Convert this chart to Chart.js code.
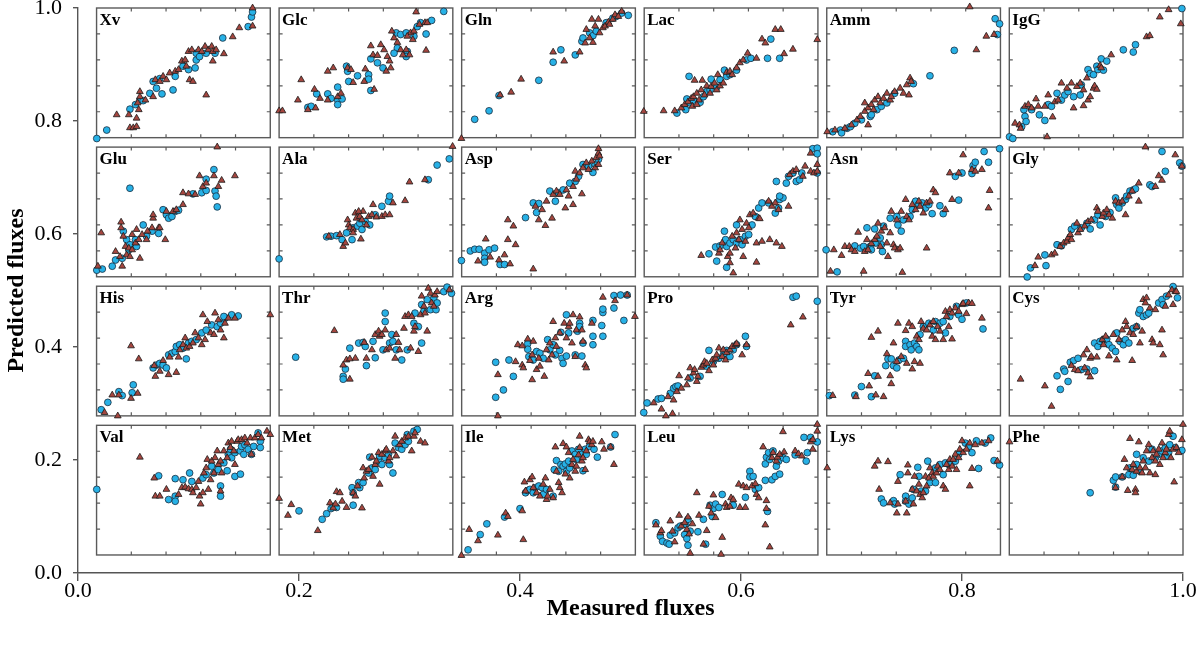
<!DOCTYPE html>
<html>
<head>
<meta charset="utf-8">
<script src="https://cdn.jsdelivr.net/npm/chart.js@4/dist/chart.umd.min.js"></script>
<style>
html,body{margin:0;padding:0;background:#fff;}
#wrap{width:1200px;height:645px;}
</style>
</head>
<body>
<div id="wrap"><canvas id="c" width="1200" height="645"></canvas></div>
<script>
// ---------- tick labels ----------
const tickValues = [0, 0.2, 0.4, 0.6, 0.8, 1.0];
const xTickLabels = ['0.0', '0.2', '0.4', '0.6', '0.8', '1.0'];
const yTickLabels = ['0.0', '0.2', '0.4', '0.6', '0.8', '1.0'];

// ---------- panel names (categories) ----------
const panelNames = ['Xv','Glc','Gln','Lac','Amm','IgG','Glu','Ala','Asp','Ser','Asn','Gly',
                    'His','Thr','Arg','Pro','Tyr','Cys','Val','Met','Ile','Leu','Lys','Phe'];

// ---------- series values: [measured, predicted] (C = circles, T = triangles) ----------
const xvC = [[0.017,0.769],[0.026,0.784],[0.047,0.821],[0.052,0.829],[0.056,0.837],[0.059,0.836],[0.065,0.849],[0.068,0.870],[0.071,0.858],[0.074,0.875],[0.076,0.848],[0.086,0.855],[0.088,0.879],[0.095,0.897],[0.100,0.891],[0.106,0.894],[0.107,0.908],[0.107,0.920],[0.110,0.914],[0.116,0.920],[0.124,0.920],[0.131,0.947],[0.154,0.967],[0.157,0.984],[0.158,0.993]];
const xvT = [[0.035,0.811],[0.046,0.811],[0.047,0.788],[0.050,0.788],[0.053,0.790],[0.053,0.805],[0.055,0.820],[0.056,0.852],[0.056,0.843],[0.054,0.832],[0.061,0.837],[0.068,0.843],[0.070,0.873],[0.074,0.870],[0.077,0.879],[0.080,0.873],[0.083,0.885],[0.088,0.888],[0.091,0.891],[0.094,0.906],[0.097,0.908],[0.098,0.897],[0.101,0.873],[0.104,0.870],[0.100,0.923],[0.103,0.926],[0.109,0.926],[0.112,0.923],[0.115,0.932],[0.118,0.926],[0.121,0.932],[0.122,0.923],[0.125,0.926],[0.116,0.846],[0.122,0.906],[0.132,0.919],[0.140,0.949],[0.146,0.965],[0.158,0.968],[0.158,1.000]];
const glcC = [[0.208,0.824],[0.211,0.826],[0.216,0.848],[0.226,0.848],[0.229,0.840],[0.235,0.837],[0.235,0.829],[0.235,0.860],[0.239,0.839],[0.243,0.897],[0.244,0.888],[0.245,0.870],[0.253,0.880],[0.263,0.882],[0.263,0.874],[0.265,0.854],[0.265,0.910],[0.271,0.903],[0.276,0.894],[0.288,0.956],[0.292,0.953],[0.289,0.929],[0.297,0.956],[0.298,0.923],[0.297,0.914],[0.304,0.950],[0.307,0.967],[0.310,0.974],[0.315,0.954],[0.320,0.978],[0.286,0.920],[0.331,0.994]];
const glcT = [[0.182,0.818],[0.185,0.818],[0.199,0.837],[0.202,0.873],[0.208,0.820],[0.214,0.856],[0.215,0.823],[0.219,0.840],[0.226,0.837],[0.226,0.888],[0.231,0.894],[0.235,0.843],[0.238,0.849],[0.244,0.894],[0.247,0.891],[0.249,0.868],[0.260,0.892],[0.259,0.870],[0.265,0.933],[0.268,0.856],[0.267,0.917],[0.271,0.916],[0.274,0.935],[0.277,0.926],[0.280,0.914],[0.282,0.906],[0.279,0.888],[0.283,0.894],[0.284,0.959],[0.286,0.947],[0.289,0.939],[0.292,0.926],[0.294,0.917],[0.297,0.926],[0.300,0.917],[0.301,0.956],[0.304,0.959],[0.306,0.993],[0.309,0.971],[0.314,0.974],[0.315,0.925],[0.316,0.974],[0.303,0.944],[0.298,0.950]];
const glnC = [[0.359,0.803],[0.372,0.818],[0.381,0.845],[0.417,0.872],[0.430,0.904],[0.437,0.926],[0.450,0.917],[0.456,0.941],[0.457,0.947],[0.463,0.956],[0.466,0.951],[0.469,0.959],[0.478,0.974],[0.484,0.982],[0.487,0.985],[0.492,0.991],[0.498,0.987]];
const glnT = [[0.347,0.769],[0.382,0.846],[0.392,0.851],[0.401,0.874],[0.430,0.922],[0.440,0.906],[0.454,0.922],[0.459,0.938],[0.460,0.962],[0.465,0.980],[0.466,0.939],[0.468,0.968],[0.471,0.980],[0.472,0.956],[0.475,0.965],[0.477,0.968],[0.480,0.975],[0.481,0.971],[0.484,0.980],[0.486,0.988],[0.489,0.985],[0.492,0.994],[0.463,0.947]];
const lacC = [[0.542,0.814],[0.550,0.820],[0.551,0.839],[0.554,0.832],[0.557,0.837],[0.563,0.833],[0.566,0.843],[0.569,0.852],[0.572,0.855],[0.573,0.874],[0.578,0.860],[0.581,0.873],[0.585,0.890],[0.587,0.879],[0.590,0.882],[0.596,0.890],[0.605,0.908],[0.609,0.911],[0.553,0.879],[0.627,0.945],[0.624,0.911],[0.635,0.911]];
const lacT = [[0.512,0.817],[0.530,0.818],[0.540,0.818],[0.546,0.823],[0.549,0.829],[0.552,0.834],[0.555,0.840],[0.557,0.843],[0.560,0.849],[0.562,0.837],[0.564,0.855],[0.567,0.846],[0.569,0.862],[0.572,0.849],[0.573,0.861],[0.576,0.867],[0.578,0.855],[0.581,0.862],[0.584,0.867],[0.579,0.882],[0.587,0.886],[0.590,0.888],[0.592,0.882],[0.596,0.894],[0.599,0.903],[0.602,0.908],[0.606,0.920],[0.614,0.911],[0.619,0.945],[0.622,0.938],[0.631,0.962],[0.636,0.962],[0.639,0.919],[0.647,0.927],[0.558,0.872],[0.565,0.872],[0.556,0.826],[0.560,0.829],[0.669,0.944]];
const ammC = [[0.683,0.781],[0.690,0.784],[0.691,0.779],[0.696,0.787],[0.699,0.790],[0.703,0.796],[0.709,0.802],[0.717,0.808],[0.718,0.811],[0.723,0.820],[0.727,0.826],[0.732,0.832],[0.739,0.849],[0.756,0.866],[0.771,0.880],[0.793,0.925],[0.830,0.981],[0.834,0.972],[0.832,0.953]];
const ammT = [[0.678,0.781],[0.685,0.784],[0.694,0.787],[0.700,0.793],[0.705,0.802],[0.708,0.808],[0.712,0.817],[0.712,0.832],[0.715,0.823],[0.718,0.829],[0.721,0.837],[0.724,0.843],[0.726,0.832],[0.729,0.840],[0.732,0.849],[0.735,0.837],[0.736,0.843],[0.739,0.852],[0.744,0.858],[0.747,0.849],[0.750,0.864],[0.753,0.876],[0.754,0.870],[0.752,0.846],[0.715,0.793],[0.720,0.820],[0.807,1.002],[0.813,0.926],[0.822,0.950],[0.829,0.953]];
const iggC = [[0.843,0.772],[0.846,0.769],[0.856,0.820],[0.857,0.808],[0.858,0.799],[0.854,0.790],[0.863,0.820],[0.870,0.811],[0.875,0.801],[0.878,0.829],[0.881,0.826],[0.886,0.849],[0.890,0.837],[0.893,0.846],[0.896,0.852],[0.901,0.843],[0.907,0.846],[0.908,0.864],[0.914,0.891],[0.916,0.884],[0.919,0.882],[0.922,0.897],[0.923,0.891],[0.926,0.910],[0.928,0.890],[0.931,0.906],[0.946,0.926],[0.955,0.922],[0.957,0.935],[0.999,0.999]];
const iggT = [[0.848,0.796],[0.852,0.793],[0.853,0.787],[0.857,0.826],[0.860,0.829],[0.863,0.823],[0.867,0.839],[0.869,0.826],[0.875,0.826],[0.877,0.772],[0.878,0.846],[0.882,0.807],[0.884,0.834],[0.887,0.837],[0.890,0.867],[0.895,0.858],[0.899,0.867],[0.901,0.823],[0.904,0.861],[0.907,0.867],[0.910,0.855],[0.910,0.827],[0.913,0.876],[0.914,0.837],[0.916,0.843],[0.919,0.858],[0.920,0.862],[0.922,0.856],[0.925,0.898],[0.926,0.894],[0.935,0.917],[0.967,0.949],[0.970,0.951],[0.979,0.984],[0.987,0.997],[0.998,0.972]];
const gluC = [[0.017,0.536],[0.022,0.538],[0.031,0.543],[0.034,0.554],[0.040,0.557],[0.046,0.572],[0.044,0.590],[0.047,0.681],[0.047,0.581],[0.052,0.590],[0.053,0.578],[0.059,0.616],[0.062,0.596],[0.067,0.605],[0.073,0.601],[0.077,0.643],[0.080,0.634],[0.082,0.628],[0.085,0.631],[0.088,0.640],[0.091,0.642],[0.104,0.671],[0.112,0.673],[0.116,0.677],[0.116,0.697],[0.123,0.714],[0.124,0.676],[0.125,0.667],[0.126,0.648],[0.041,0.605]];
const gluT = [[0.018,0.543],[0.021,0.602],[0.034,0.569],[0.038,0.560],[0.040,0.543],[0.039,0.621],[0.039,0.611],[0.041,0.596],[0.043,0.578],[0.044,0.563],[0.046,0.575],[0.047,0.560],[0.049,0.572],[0.049,0.599],[0.052,0.584],[0.053,0.608],[0.055,0.590],[0.056,0.557],[0.058,0.599],[0.062,0.590],[0.063,0.605],[0.067,0.611],[0.068,0.628],[0.068,0.634],[0.073,0.611],[0.074,0.611],[0.079,0.590],[0.080,0.640],[0.086,0.640],[0.089,0.643],[0.095,0.652],[0.095,0.673],[0.100,0.671],[0.106,0.670],[0.110,0.703],[0.113,0.684],[0.116,0.690],[0.123,0.703],[0.127,0.684],[0.130,0.695],[0.142,0.703],[0.126,0.754]];
const alaC = [[0.182,0.556],[0.225,0.595],[0.229,0.596],[0.234,0.597],[0.239,0.590],[0.243,0.602],[0.248,0.590],[0.249,0.611],[0.253,0.614],[0.255,0.619],[0.257,0.608],[0.260,0.622],[0.264,0.616],[0.269,0.634],[0.275,0.649],[0.281,0.658],[0.282,0.667],[0.317,0.696],[0.325,0.722],[0.336,0.733]];
const alaT = [[0.227,0.596],[0.237,0.599],[0.240,0.578],[0.242,0.584],[0.244,0.625],[0.245,0.616],[0.246,0.611],[0.249,0.608],[0.251,0.637],[0.252,0.628],[0.255,0.631],[0.257,0.625],[0.258,0.640],[0.261,0.616],[0.263,0.631],[0.266,0.634],[0.267,0.652],[0.270,0.630],[0.275,0.631],[0.278,0.634],[0.282,0.634],[0.285,0.655],[0.296,0.659],[0.300,0.692],[0.314,0.696],[0.256,0.591],[0.249,0.602],[0.254,0.640],[0.339,0.755]];
const aspC = [[0.347,0.553],[0.355,0.570],[0.359,0.573],[0.363,0.573],[0.368,0.566],[0.368,0.557],[0.372,0.572],[0.377,0.575],[0.368,0.550],[0.382,0.546],[0.386,0.546],[0.405,0.629],[0.412,0.655],[0.415,0.638],[0.417,0.654],[0.427,0.676],[0.432,0.658],[0.435,0.673],[0.439,0.678],[0.445,0.690],[0.450,0.693],[0.453,0.702],[0.457,0.723],[0.462,0.720],[0.466,0.709],[0.468,0.723],[0.471,0.732]];
const aspT = [[0.362,0.552],[0.369,0.591],[0.373,0.559],[0.381,0.554],[0.386,0.563],[0.389,0.590],[0.389,0.625],[0.391,0.547],[0.394,0.614],[0.396,0.581],[0.412,0.538],[0.414,0.649],[0.417,0.625],[0.420,0.643],[0.423,0.615],[0.424,0.658],[0.429,0.628],[0.430,0.670],[0.433,0.676],[0.436,0.670],[0.441,0.646],[0.442,0.678],[0.444,0.667],[0.448,0.652],[0.448,0.684],[0.450,0.711],[0.451,0.697],[0.454,0.708],[0.456,0.671],[0.457,0.717],[0.460,0.726],[0.462,0.714],[0.465,0.729],[0.468,0.717],[0.469,0.735],[0.471,0.743],[0.471,0.751],[0.471,0.723],[0.472,0.738]];
const serC = [[0.571,0.565],[0.577,0.577],[0.578,0.552],[0.581,0.579],[0.585,0.605],[0.586,0.590],[0.587,0.578],[0.587,0.541],[0.590,0.584],[0.593,0.590],[0.596,0.616],[0.596,0.584],[0.599,0.590],[0.601,0.581],[0.604,0.596],[0.607,0.599],[0.610,0.616],[0.613,0.631],[0.616,0.646],[0.619,0.655],[0.625,0.655],[0.631,0.637],[0.632,0.693],[0.634,0.646],[0.635,0.661],[0.638,0.664],[0.641,0.690],[0.643,0.702],[0.647,0.708],[0.650,0.693],[0.653,0.696],[0.655,0.708],[0.665,0.751],[0.635,0.667],[0.669,0.752],[0.669,0.742],[0.669,0.708]];
const serT = [[0.564,0.562],[0.580,0.566],[0.581,0.572],[0.583,0.584],[0.588,0.560],[0.590,0.566],[0.590,0.549],[0.592,0.596],[0.593,0.531],[0.595,0.575],[0.596,0.602],[0.598,0.590],[0.599,0.625],[0.601,0.608],[0.602,0.560],[0.604,0.587],[0.605,0.619],[0.607,0.611],[0.608,0.634],[0.611,0.637],[0.614,0.584],[0.616,0.628],[0.614,0.550],[0.617,0.627],[0.619,0.587],[0.625,0.658],[0.628,0.649],[0.631,0.655],[0.632,0.584],[0.634,0.643],[0.637,0.578],[0.643,0.649],[0.644,0.705],[0.647,0.711],[0.650,0.714],[0.656,0.702],[0.658,0.720],[0.663,0.743],[0.663,0.711],[0.666,0.708],[0.626,0.590],[0.669,0.723],[0.669,0.711]];
const asnC = [[0.677,0.572],[0.687,0.533],[0.703,0.579],[0.708,0.575],[0.711,0.578],[0.714,0.611],[0.717,0.578],[0.718,0.572],[0.721,0.609],[0.722,0.584],[0.726,0.593],[0.727,0.581],[0.728,0.569],[0.729,0.614],[0.735,0.628],[0.741,0.631],[0.742,0.616],[0.745,0.605],[0.747,0.625],[0.753,0.631],[0.755,0.643],[0.758,0.658],[0.761,0.652],[0.764,0.655],[0.767,0.646],[0.770,0.652],[0.773,0.636],[0.780,0.650],[0.783,0.636],[0.794,0.702],[0.797,0.660],[0.800,0.708],[0.809,0.707],[0.810,0.721],[0.812,0.727],[0.820,0.746],[0.824,0.727],[0.834,0.751]];
const asnT = [[0.681,0.534],[0.684,0.572],[0.691,0.562],[0.694,0.578],[0.698,0.578],[0.700,0.572],[0.703,0.569],[0.706,0.603],[0.711,0.534],[0.712,0.569],[0.714,0.590],[0.715,0.572],[0.718,0.583],[0.721,0.590],[0.723,0.596],[0.724,0.619],[0.726,0.578],[0.727,0.605],[0.730,0.611],[0.732,0.584],[0.733,0.560],[0.735,0.602],[0.736,0.640],[0.738,0.581],[0.739,0.575],[0.741,0.625],[0.742,0.572],[0.744,0.575],[0.745,0.640],[0.746,0.532],[0.749,0.661],[0.750,0.631],[0.752,0.625],[0.755,0.652],[0.758,0.643],[0.761,0.658],[0.762,0.649],[0.765,0.637],[0.768,0.655],[0.771,0.658],[0.774,0.678],[0.776,0.673],[0.768,0.575],[0.785,0.643],[0.789,0.708],[0.791,0.661],[0.797,0.708],[0.801,0.740],[0.809,0.714],[0.812,0.711],[0.818,0.714],[0.825,0.677],[0.824,0.646]];
const glyC = [[0.859,0.524],[0.862,0.540],[0.875,0.563],[0.876,0.544],[0.886,0.581],[0.890,0.579],[0.899,0.608],[0.902,0.614],[0.908,0.611],[0.913,0.619],[0.916,0.609],[0.920,0.625],[0.923,0.634],[0.925,0.616],[0.930,0.631],[0.934,0.638],[0.939,0.664],[0.940,0.652],[0.942,0.646],[0.945,0.655],[0.948,0.661],[0.949,0.667],[0.952,0.676],[0.955,0.678],[0.957,0.680],[0.970,0.687],[0.972,0.684],[0.984,0.711],[0.981,0.746],[0.997,0.726],[0.999,0.720]];
const glyT = [[0.866,0.544],[0.869,0.559],[0.881,0.563],[0.884,0.566],[0.889,0.578],[0.892,0.584],[0.895,0.587],[0.896,0.593],[0.898,0.599],[0.899,0.590],[0.904,0.619],[0.905,0.602],[0.907,0.608],[0.911,0.614],[0.914,0.622],[0.917,0.625],[0.922,0.646],[0.923,0.640],[0.927,0.631],[0.928,0.637],[0.931,0.643],[0.933,0.634],[0.936,0.628],[0.939,0.658],[0.942,0.655],[0.945,0.658],[0.948,0.634],[0.951,0.667],[0.954,0.676],[0.960,0.690],[0.960,0.658],[0.975,0.684],[0.978,0.703],[0.981,0.695],[0.993,0.740],[0.999,0.720],[0.966,0.754]];
const hisC = [[0.021,0.289],[0.027,0.302],[0.037,0.321],[0.040,0.314],[0.049,0.319],[0.050,0.333],[0.068,0.363],[0.071,0.368],[0.074,0.371],[0.077,0.368],[0.080,0.363],[0.082,0.386],[0.085,0.389],[0.088,0.392],[0.089,0.401],[0.092,0.404],[0.095,0.398],[0.098,0.379],[0.100,0.407],[0.103,0.410],[0.107,0.413],[0.112,0.425],[0.116,0.430],[0.121,0.439],[0.126,0.436],[0.129,0.442],[0.133,0.451],[0.139,0.457],[0.145,0.455],[0.132,0.454]];
const hisT = [[0.024,0.284],[0.031,0.315],[0.036,0.278],[0.037,0.315],[0.048,0.402],[0.048,0.309],[0.054,0.318],[0.055,0.379],[0.069,0.367],[0.070,0.348],[0.074,0.357],[0.077,0.376],[0.082,0.351],[0.083,0.382],[0.089,0.355],[0.091,0.382],[0.092,0.395],[0.095,0.404],[0.097,0.416],[0.098,0.398],[0.101,0.401],[0.104,0.407],[0.106,0.425],[0.109,0.416],[0.112,0.404],[0.113,0.457],[0.115,0.413],[0.117,0.445],[0.120,0.425],[0.123,0.422],[0.124,0.460],[0.127,0.448],[0.129,0.430],[0.132,0.416],[0.133,0.442],[0.136,0.451],[0.142,0.451],[0.174,0.457]];
const thrC = [[0.197,0.382],[0.240,0.348],[0.240,0.343],[0.242,0.361],[0.246,0.398],[0.254,0.407],[0.258,0.408],[0.260,0.401],[0.261,0.367],[0.267,0.410],[0.269,0.381],[0.276,0.395],[0.278,0.460],[0.278,0.445],[0.282,0.407],[0.284,0.422],[0.285,0.410],[0.288,0.395],[0.293,0.377],[0.298,0.395],[0.304,0.442],[0.305,0.460],[0.308,0.436],[0.311,0.407],[0.311,0.475],[0.313,0.463],[0.316,0.484],[0.319,0.466],[0.322,0.487],[0.324,0.466],[0.325,0.478],[0.331,0.498],[0.334,0.506],[0.338,0.495]];
const thrT = [[0.232,0.429],[0.240,0.368],[0.243,0.377],[0.246,0.343],[0.246,0.379],[0.251,0.380],[0.259,0.408],[0.261,0.380],[0.266,0.395],[0.269,0.422],[0.272,0.428],[0.273,0.419],[0.275,0.422],[0.278,0.430],[0.279,0.395],[0.282,0.398],[0.287,0.380],[0.288,0.422],[0.290,0.408],[0.291,0.395],[0.295,0.433],[0.296,0.454],[0.299,0.457],[0.301,0.398],[0.302,0.454],[0.304,0.428],[0.305,0.436],[0.308,0.392],[0.310,0.457],[0.311,0.490],[0.313,0.472],[0.314,0.460],[0.316,0.428],[0.317,0.504],[0.319,0.495],[0.320,0.478],[0.322,0.472],[0.323,0.492],[0.325,0.498],[0.336,0.501]];
const argC = [[0.378,0.373],[0.378,0.311],[0.385,0.324],[0.390,0.377],[0.394,0.348],[0.407,0.406],[0.407,0.396],[0.408,0.383],[0.412,0.377],[0.415,0.392],[0.418,0.389],[0.421,0.380],[0.425,0.413],[0.427,0.395],[0.430,0.404],[0.432,0.386],[0.436,0.394],[0.437,0.426],[0.438,0.380],[0.439,0.371],[0.442,0.457],[0.442,0.384],[0.444,0.425],[0.450,0.386],[0.452,0.428],[0.454,0.442],[0.456,0.384],[0.457,0.407],[0.466,0.447],[0.466,0.404],[0.466,0.419],[0.474,0.438],[0.475,0.419],[0.475,0.461],[0.475,0.467],[0.485,0.491],[0.485,0.469],[0.491,0.492],[0.494,0.447],[0.497,0.492],[0.454,0.436]];
const argT = [[0.380,0.351],[0.380,0.278],[0.396,0.374],[0.398,0.404],[0.402,0.368],[0.402,0.402],[0.403,0.363],[0.407,0.414],[0.409,0.376],[0.411,0.386],[0.412,0.410],[0.411,0.342],[0.415,0.360],[0.417,0.380],[0.418,0.366],[0.422,0.348],[0.424,0.395],[0.426,0.377],[0.427,0.407],[0.429,0.386],[0.430,0.445],[0.432,0.416],[0.433,0.401],[0.436,0.425],[0.440,0.442],[0.442,0.416],[0.444,0.436],[0.445,0.442],[0.447,0.407],[0.448,0.457],[0.450,0.383],[0.451,0.430],[0.454,0.453],[0.456,0.430],[0.457,0.410],[0.459,0.368],[0.460,0.363],[0.465,0.442],[0.475,0.488],[0.486,0.482],[0.497,0.492],[0.504,0.454]];
const proC = [[0.512,0.284],[0.515,0.301],[0.525,0.308],[0.528,0.309],[0.536,0.318],[0.539,0.327],[0.541,0.330],[0.543,0.331],[0.554,0.345],[0.563,0.348],[0.569,0.366],[0.571,0.394],[0.575,0.374],[0.580,0.380],[0.584,0.386],[0.587,0.394],[0.590,0.383],[0.593,0.395],[0.596,0.404],[0.604,0.419],[0.605,0.401],[0.647,0.488],[0.650,0.490],[0.669,0.481]];
const proT = [[0.521,0.301],[0.528,0.290],[0.532,0.278],[0.534,0.312],[0.538,0.282],[0.539,0.306],[0.542,0.321],[0.544,0.349],[0.546,0.327],[0.551,0.333],[0.552,0.345],[0.554,0.363],[0.557,0.354],[0.558,0.360],[0.560,0.339],[0.561,0.348],[0.564,0.364],[0.566,0.368],[0.567,0.374],[0.569,0.371],[0.571,0.358],[0.574,0.377],[0.575,0.368],[0.577,0.380],[0.578,0.386],[0.580,0.398],[0.583,0.383],[0.584,0.395],[0.586,0.377],[0.587,0.390],[0.590,0.395],[0.592,0.401],[0.595,0.404],[0.596,0.406],[0.601,0.386],[0.605,0.404],[0.645,0.439],[0.656,0.453]];
const tyrC = [[0.680,0.314],[0.703,0.315],[0.709,0.330],[0.718,0.312],[0.721,0.349],[0.731,0.367],[0.733,0.379],[0.736,0.379],[0.738,0.367],[0.741,0.363],[0.743,0.377],[0.747,0.380],[0.749,0.410],[0.749,0.401],[0.753,0.404],[0.754,0.395],[0.757,0.407],[0.759,0.401],[0.761,0.395],[0.762,0.422],[0.765,0.436],[0.770,0.442],[0.774,0.430],[0.776,0.445],[0.780,0.442],[0.783,0.445],[0.785,0.425],[0.789,0.454],[0.795,0.472],[0.797,0.457],[0.800,0.449],[0.804,0.478],[0.819,0.432]];
const tyrT = [[0.683,0.314],[0.704,0.312],[0.715,0.353],[0.716,0.331],[0.718,0.417],[0.722,0.315],[0.724,0.428],[0.724,0.348],[0.729,0.312],[0.732,0.388],[0.735,0.349],[0.736,0.335],[0.738,0.407],[0.741,0.374],[0.742,0.442],[0.745,0.383],[0.749,0.429],[0.750,0.371],[0.752,0.442],[0.755,0.436],[0.755,0.361],[0.757,0.374],[0.759,0.419],[0.761,0.413],[0.762,0.371],[0.763,0.445],[0.765,0.433],[0.768,0.430],[0.771,0.439],[0.773,0.419],[0.774,0.445],[0.776,0.413],[0.778,0.436],[0.780,0.428],[0.783,0.413],[0.785,0.463],[0.786,0.454],[0.788,0.436],[0.789,0.466],[0.791,0.460],[0.791,0.414],[0.794,0.469],[0.797,0.463],[0.800,0.475],[0.801,0.477],[0.804,0.459],[0.806,0.478],[0.809,0.477],[0.818,0.451]];
const cysC = [[0.886,0.349],[0.889,0.325],[0.892,0.361],[0.893,0.357],[0.896,0.339],[0.898,0.373],[0.901,0.376],[0.905,0.380],[0.908,0.360],[0.913,0.361],[0.920,0.358],[0.920,0.407],[0.923,0.401],[0.925,0.410],[0.928,0.413],[0.931,0.414],[0.933,0.404],[0.936,0.398],[0.939,0.392],[0.940,0.425],[0.943,0.410],[0.946,0.404],[0.948,0.413],[0.951,0.407],[0.955,0.433],[0.958,0.436],[0.960,0.460],[0.961,0.466],[0.964,0.454],[0.967,0.457],[0.969,0.460],[0.978,0.478],[0.981,0.484],[0.982,0.475],[0.985,0.490],[0.991,0.507],[0.995,0.487]];
const cysT = [[0.853,0.343],[0.875,0.331],[0.881,0.295],[0.899,0.367],[0.902,0.360],[0.905,0.358],[0.910,0.386],[0.911,0.363],[0.913,0.395],[0.914,0.354],[0.916,0.380],[0.916,0.347],[0.917,0.383],[0.922,0.382],[0.927,0.413],[0.928,0.404],[0.930,0.419],[0.933,0.384],[0.937,0.422],[0.940,0.377],[0.942,0.413],[0.945,0.430],[0.948,0.445],[0.949,0.436],[0.952,0.425],[0.954,0.376],[0.955,0.422],[0.958,0.436],[0.961,0.407],[0.963,0.428],[0.964,0.484],[0.966,0.478],[0.967,0.487],[0.970,0.469],[0.972,0.413],[0.973,0.407],[0.975,0.466],[0.979,0.404],[0.981,0.430],[0.982,0.386],[0.984,0.472],[0.987,0.492],[0.990,0.501],[0.991,0.475],[0.993,0.498],[0.994,0.498]];
const valC = [[0.017,0.148],[0.073,0.172],[0.082,0.130],[0.088,0.136],[0.088,0.127],[0.088,0.167],[0.095,0.165],[0.101,0.177],[0.103,0.162],[0.113,0.168],[0.116,0.174],[0.121,0.189],[0.123,0.177],[0.127,0.183],[0.129,0.154],[0.129,0.136],[0.132,0.195],[0.135,0.181],[0.136,0.210],[0.138,0.219],[0.139,0.204],[0.142,0.213],[0.142,0.171],[0.147,0.216],[0.147,0.175],[0.148,0.224],[0.150,0.210],[0.151,0.227],[0.154,0.219],[0.157,0.210],[0.159,0.224],[0.163,0.248],[0.165,0.233],[0.165,0.222]];
const valT = [[0.056,0.205],[0.069,0.168],[0.070,0.136],[0.074,0.136],[0.080,0.148],[0.091,0.139],[0.094,0.151],[0.097,0.152],[0.100,0.149],[0.103,0.148],[0.104,0.142],[0.107,0.151],[0.109,0.162],[0.110,0.136],[0.111,0.122],[0.113,0.142],[0.114,0.177],[0.116,0.186],[0.117,0.201],[0.118,0.148],[0.120,0.165],[0.121,0.198],[0.123,0.177],[0.124,0.204],[0.126,0.216],[0.127,0.192],[0.129,0.145],[0.129,0.198],[0.130,0.177],[0.132,0.216],[0.135,0.204],[0.136,0.230],[0.138,0.222],[0.139,0.233],[0.141,0.216],[0.142,0.192],[0.144,0.233],[0.145,0.236],[0.148,0.236],[0.151,0.239],[0.153,0.230],[0.156,0.239],[0.157,0.210],[0.160,0.239],[0.163,0.245],[0.166,0.239],[0.171,0.251],[0.174,0.245]];
const metC = [[0.200,0.110],[0.221,0.095],[0.225,0.105],[0.229,0.114],[0.231,0.118],[0.234,0.116],[0.248,0.151],[0.249,0.142],[0.249,0.120],[0.254,0.160],[0.255,0.151],[0.258,0.160],[0.263,0.177],[0.264,0.205],[0.266,0.186],[0.269,0.183],[0.272,0.198],[0.273,0.207],[0.275,0.192],[0.278,0.204],[0.281,0.210],[0.282,0.192],[0.285,0.177],[0.287,0.230],[0.290,0.222],[0.293,0.219],[0.296,0.227],[0.298,0.245],[0.299,0.233],[0.304,0.251],[0.307,0.254]];
const metT = [[0.182,0.132],[0.190,0.102],[0.193,0.121],[0.217,0.075],[0.228,0.124],[0.231,0.115],[0.233,0.122],[0.234,0.144],[0.237,0.142],[0.239,0.127],[0.243,0.116],[0.249,0.142],[0.251,0.136],[0.253,0.154],[0.257,0.115],[0.258,0.186],[0.259,0.168],[0.261,0.180],[0.263,0.183],[0.266,0.205],[0.267,0.171],[0.269,0.192],[0.270,0.198],[0.272,0.213],[0.273,0.157],[0.275,0.210],[0.278,0.216],[0.279,0.219],[0.281,0.198],[0.282,0.204],[0.285,0.216],[0.287,0.242],[0.288,0.207],[0.291,0.227],[0.293,0.233],[0.296,0.239],[0.299,0.242],[0.302,0.216],[0.304,0.242],[0.305,0.248],[0.310,0.233],[0.314,0.230]];
const ileC = [[0.353,0.041],[0.364,0.068],[0.370,0.087],[0.386,0.099],[0.400,0.114],[0.405,0.142],[0.407,0.146],[0.409,0.148],[0.412,0.142],[0.414,0.151],[0.417,0.154],[0.420,0.151],[0.421,0.139],[0.424,0.148],[0.430,0.136],[0.431,0.183],[0.433,0.199],[0.435,0.180],[0.437,0.192],[0.439,0.189],[0.441,0.193],[0.442,0.180],[0.444,0.198],[0.445,0.186],[0.447,0.216],[0.450,0.210],[0.451,0.201],[0.453,0.219],[0.456,0.210],[0.457,0.181],[0.459,0.219],[0.460,0.210],[0.463,0.224],[0.467,0.219],[0.470,0.205],[0.482,0.223],[0.486,0.245]];
const ileT = [[0.347,0.031],[0.354,0.077],[0.362,0.057],[0.380,0.067],[0.387,0.106],[0.389,0.100],[0.402,0.110],[0.403,0.059],[0.404,0.161],[0.405,0.145],[0.409,0.165],[0.411,0.170],[0.412,0.151],[0.415,0.142],[0.418,0.136],[0.421,0.157],[0.423,0.168],[0.424,0.130],[0.425,0.136],[0.427,0.148],[0.430,0.133],[0.432,0.223],[0.433,0.180],[0.435,0.160],[0.436,0.151],[0.438,0.142],[0.439,0.229],[0.441,0.175],[0.442,0.223],[0.444,0.213],[0.445,0.168],[0.447,0.192],[0.448,0.201],[0.450,0.180],[0.451,0.189],[0.453,0.209],[0.454,0.242],[0.454,0.222],[0.456,0.198],[0.457,0.204],[0.459,0.183],[0.460,0.216],[0.462,0.236],[0.463,0.232],[0.465,0.227],[0.466,0.233],[0.474,0.232],[0.476,0.219],[0.482,0.223],[0.485,0.192]];
const leuC = [[0.523,0.089],[0.527,0.065],[0.529,0.056],[0.533,0.053],[0.535,0.051],[0.536,0.067],[0.540,0.071],[0.543,0.080],[0.545,0.083],[0.549,0.068],[0.550,0.086],[0.551,0.061],[0.552,0.049],[0.552,0.095],[0.554,0.074],[0.561,0.073],[0.566,0.095],[0.568,0.051],[0.572,0.120],[0.574,0.100],[0.575,0.114],[0.577,0.122],[0.580,0.116],[0.583,0.139],[0.593,0.120],[0.604,0.134],[0.608,0.180],[0.608,0.170],[0.611,0.171],[0.613,0.148],[0.616,0.151],[0.622,0.164],[0.622,0.193],[0.623,0.205],[0.625,0.213],[0.626,0.201],[0.628,0.165],[0.629,0.216],[0.631,0.171],[0.632,0.189],[0.634,0.198],[0.635,0.175],[0.638,0.204],[0.641,0.201],[0.649,0.209],[0.657,0.240],[0.659,0.198],[0.660,0.213],[0.663,0.240],[0.624,0.109],[0.669,0.232]];
const leuT = [[0.523,0.085],[0.527,0.071],[0.528,0.075],[0.536,0.092],[0.538,0.074],[0.540,0.055],[0.544,0.102],[0.546,0.083],[0.549,0.089],[0.551,0.077],[0.552,0.099],[0.553,0.069],[0.554,0.035],[0.556,0.087],[0.560,0.142],[0.562,0.102],[0.566,0.051],[0.569,0.075],[0.571,0.118],[0.573,0.106],[0.575,0.138],[0.577,0.098],[0.582,0.033],[0.583,0.063],[0.586,0.122],[0.587,0.116],[0.590,0.118],[0.591,0.133],[0.593,0.130],[0.598,0.157],[0.599,0.116],[0.602,0.154],[0.604,0.116],[0.605,0.151],[0.610,0.154],[0.613,0.158],[0.614,0.139],[0.616,0.133],[0.620,0.223],[0.622,0.085],[0.623,0.128],[0.623,0.114],[0.626,0.046],[0.628,0.204],[0.629,0.213],[0.632,0.198],[0.633,0.205],[0.635,0.210],[0.638,0.250],[0.639,0.214],[0.649,0.216],[0.652,0.211],[0.655,0.207],[0.663,0.232],[0.665,0.219],[0.665,0.236],[0.669,0.263],[0.669,0.251]];
const lysC = [[0.727,0.131],[0.729,0.124],[0.738,0.128],[0.739,0.122],[0.744,0.174],[0.749,0.136],[0.749,0.127],[0.752,0.122],[0.755,0.133],[0.756,0.148],[0.760,0.187],[0.761,0.171],[0.763,0.145],[0.767,0.145],[0.769,0.198],[0.771,0.160],[0.776,0.186],[0.776,0.160],[0.780,0.192],[0.783,0.174],[0.785,0.195],[0.788,0.192],[0.791,0.195],[0.794,0.198],[0.797,0.210],[0.803,0.230],[0.806,0.224],[0.809,0.213],[0.813,0.234],[0.815,0.185],[0.821,0.230],[0.826,0.239],[0.829,0.199],[0.834,0.191]];
const lysT = [[0.678,0.186],[0.721,0.189],[0.724,0.198],[0.725,0.148],[0.733,0.197],[0.735,0.124],[0.741,0.106],[0.742,0.162],[0.742,0.122],[0.749,0.127],[0.750,0.106],[0.751,0.191],[0.751,0.177],[0.755,0.148],[0.756,0.122],[0.757,0.171],[0.759,0.145],[0.761,0.157],[0.762,0.139],[0.764,0.133],[0.765,0.142],[0.767,0.171],[0.768,0.154],[0.770,0.168],[0.771,0.186],[0.773,0.177],[0.774,0.171],[0.777,0.177],[0.778,0.189],[0.780,0.183],[0.783,0.154],[0.785,0.148],[0.786,0.192],[0.788,0.183],[0.789,0.201],[0.791,0.189],[0.792,0.201],[0.794,0.210],[0.795,0.183],[0.797,0.204],[0.798,0.219],[0.800,0.234],[0.801,0.213],[0.804,0.219],[0.807,0.230],[0.807,0.154],[0.809,0.185],[0.812,0.227],[0.818,0.230],[0.824,0.234],[0.832,0.198],[0.843,0.232]];
const pheC = [[0.916,0.142],[0.937,0.164],[0.939,0.170],[0.939,0.152],[0.945,0.170],[0.951,0.174],[0.952,0.186],[0.955,0.173],[0.958,0.210],[0.958,0.192],[0.961,0.180],[0.964,0.204],[0.969,0.198],[0.972,0.219],[0.975,0.204],[0.978,0.210],[0.981,0.216],[0.984,0.222],[0.985,0.207],[0.987,0.213],[0.991,0.242],[0.993,0.222],[0.999,0.217],[0.988,0.227]];
const pheT = [[0.939,0.151],[0.945,0.170],[0.947,0.201],[0.949,0.186],[0.950,0.146],[0.952,0.238],[0.954,0.183],[0.955,0.192],[0.957,0.148],[0.957,0.142],[0.958,0.180],[0.960,0.232],[0.961,0.186],[0.963,0.177],[0.964,0.198],[0.966,0.186],[0.967,0.216],[0.969,0.227],[0.970,0.177],[0.972,0.204],[0.973,0.216],[0.975,0.198],[0.975,0.174],[0.976,0.210],[0.978,0.219],[0.979,0.192],[0.981,0.230],[0.982,0.204],[0.984,0.213],[0.985,0.219],[0.987,0.245],[0.988,0.251],[0.989,0.204],[0.991,0.219],[0.992,0.161],[0.994,0.222],[0.996,0.213],[0.999,0.236],[1.000,0.263]];

const circleSets = [xvC,glcC,glnC,lacC,ammC,iggC,gluC,alaC,aspC,serC,asnC,glyC,hisC,thrC,argC,proC,tyrC,cysC,valC,metC,ileC,leuC,lysC,pheC];
const triangleSets = [xvT,glcT,glnT,lacT,ammT,iggT,gluT,alaT,aspT,serT,asnT,glyT,hisT,thrT,argT,proT,tyrT,cysT,valT,metT,ileT,leuT,lysT,pheT];

// ---------- panel frames + labels (drawn through the scales) ----------
const SERIF = '"Liberation Serif", "DejaVu Serif", serif';
const panelPlugin = {
  id: 'panelFrames',
  beforeDatasetsDraw(chart) {
    const {ctx} = chart;
    const xs = chart.scales.x, ys = chart.scales.y;
    ctx.save();
    panelNames.forEach((name, i) => {
      const col = i % 6, row = Math.floor(i / 6);
      const x0 = 0.0168 + col * 0.1652, x1 = x0 + 0.1572;
      const yT = 1 - row * 0.2462, yB = yT - 0.2295;
      const L = xs.getPixelForValue(x0), R = xs.getPixelForValue(x1);
      const T = ys.getPixelForValue(yT), B = ys.getPixelForValue(yB);
      ctx.strokeStyle = '#5a5a5a';
      ctx.lineWidth = 1.4;
      ctx.strokeRect(L, T, R - L, B - T);
      ctx.beginPath();
      for (let k = 1; k < 5; k++) {
        const px = L + (R - L) * k / 5, py = T + (B - T) * k / 5;
        ctx.moveTo(px, T); ctx.lineTo(px, T + 3.5);
        ctx.moveTo(px, B); ctx.lineTo(px, B - 3.5);
        ctx.moveTo(L, py); ctx.lineTo(L + 3.5, py);
        ctx.moveTo(R, py); ctx.lineTo(R - 3.5, py);
      }
      ctx.lineWidth = 1.2;
      ctx.stroke();
      ctx.fillStyle = '#000';
      ctx.font = 'bold 17px ' + SERIF;
      ctx.textAlign = 'left';
      ctx.textBaseline = 'alphabetic';
      ctx.fillText(name, L + 3, T + 17);
    });
    ctx.restore();
  }
};

const allCircles = circleSets.flat();
const allTriangles = triangleSets.flat();

new Chart(document.getElementById('c'), {
  type: 'scatter',
  data: {
    datasets: [
      { label: 'triangle', data: allTriangles, pointStyle: 'triangle', pointRadius: 3.9,
        backgroundColor: '#a5463f', borderColor: '#1a1a1a', borderWidth: 0.8, clip: false },
      { label: 'circle', data: allCircles, pointStyle: 'circle', pointRadius: 3.4,
        backgroundColor: '#27b1e6', borderColor: '#1c2f40', borderWidth: 0.8, clip: false }
    ]
  },
  options: {
    responsive: false,
    animation: false,
    devicePixelRatio: 1,
    layout: { padding: { top: 8, right: 17, left: 0, bottom: 0 } },
    plugins: { legend: { display: false }, tooltip: { enabled: false } },
    elements: { point: { hoverRadius: 3.4 } },
    scales: {
      x: {
        type: 'linear', min: 0, max: 1,
        afterBuildTicks: s => { s.ticks = tickValues.map(v => ({ value: v })); },
        ticks: { callback: (v, i) => xTickLabels[i], color: '#000', padding: -1, maxRotation: 0, autoSkip: false,
                 font: { family: SERIF, size: 22, lineHeight: 1 } },
        grid: { drawOnChartArea: false, drawTicks: true, tickLength: 8, color: '#555', lineWidth: 1.4 },
        border: { display: true, color: '#555', width: 1.4 },
        title: { display: true, text: 'Measured fluxes', color: '#000', padding: { top: 0, bottom: 22 },
                 font: { family: SERIF, size: 24, weight: 'bold', lineHeight: 1.2 } },
        afterFit: s => { s.height = 72; s.paddingLeft = 0; s.paddingRight = 0; }
      },
      y: {
        type: 'linear', min: 0, max: 1,
        afterBuildTicks: s => { s.ticks = tickValues.map(v => ({ value: v })); },
        ticks: { callback: (v, i) => yTickLabels[i], color: '#000', padding: 11, autoSkip: false,
                 font: { family: SERIF, size: 22, lineHeight: 1 } },
        grid: { drawOnChartArea: false, drawTicks: true, tickLength: 5, color: '#555', lineWidth: 1.4 },
        border: { display: true, color: '#555', width: 1.4 },
        title: { display: true, text: 'Predicted fluxes', color: '#000', padding: { top: 2, bottom: 0 },
                 font: { family: SERIF, size: 24, weight: 'bold', lineHeight: 1.2 } },
        afterFit: s => { s.width = 78; s.paddingTop = 0; s.paddingBottom = 0; }
      }
    }
  },
  plugins: [panelPlugin]
});
</script>
</body>
</html>
